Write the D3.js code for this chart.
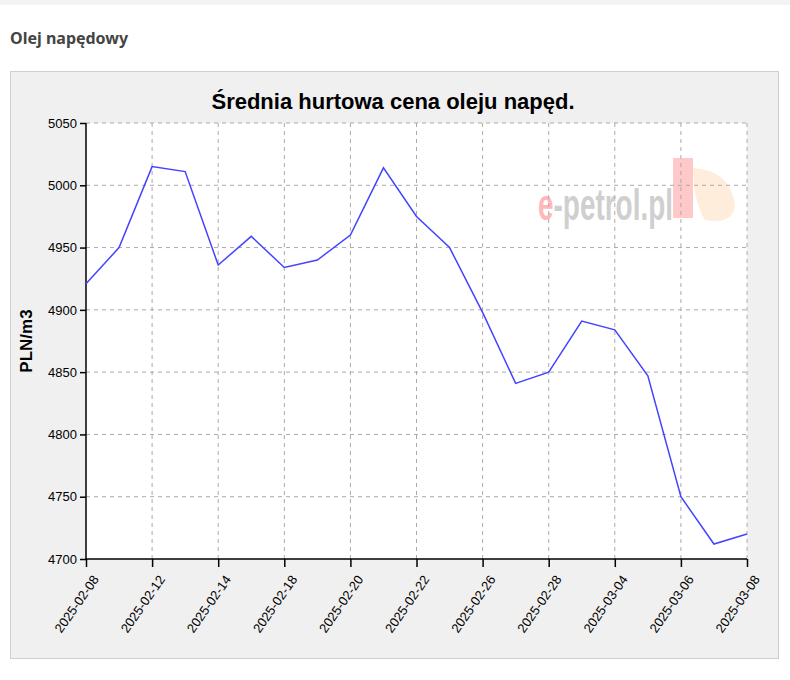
<!DOCTYPE html>
<html><head><meta charset="utf-8">
<script src="https://cdn.jsdelivr.net/npm/d3@7"></script>
<style>body{margin:0;background:#fff;font-family:"Noto Sans",sans-serif}</style>
</head><body>
<svg id="c" width="790" height="680"></svg>
<script>
const dates = ["2025-02-10","2025-02-11","2025-02-12","2025-02-13","2025-02-14","2025-02-17","2025-02-18","2025-02-19","2025-02-20","2025-02-21","2025-02-24","2025-02-25","2025-02-26","2025-02-27","2025-02-28","2025-03-03","2025-03-04","2025-03-05","2025-03-06","2025-03-07","2025-03-10"];
const prices = [4921,4950,5015,5011,4936,4959,4934,4940,4960,5014,4975,4950,4898,4841,4850,4891,4884,4847,4750,4712,4720];
const tickLabels = ["2025-02-08","2025-02-12","2025-02-14","2025-02-18","2025-02-20","2025-02-22","2025-02-26","2025-02-28","2025-03-04","2025-03-06","2025-03-08"];
const yTicks = [4700,4750,4800,4850,4900,4950,5000,5050];

const svg = d3.select("#c");
svg.append("rect").attr("x",0).attr("y",0).attr("width",790).attr("height",5).attr("fill","#f3f3f3");
svg.append("text").attr("x",10).attr("y",44).attr("font-size",16).attr("font-weight",700).attr("fill","#444").text("Olej napędowy");
svg.append("rect").attr("x",10.5).attr("y",71.5).attr("width",768).attr("height",587).attr("fill","#f0f0f0").attr("stroke","#cfcfcf");

const L=86,R=747,T=123,B=559;
svg.append("rect").attr("x",L).attr("y",T).attr("width",R-L).attr("height",B-T).attr("fill","#fff");
svg.append("text").attr("x",393).attr("y",109).attr("text-anchor","middle").attr("font-family","Liberation Sans, Arial").attr("font-weight",700).attr("font-size",22).attr("fill","#000").text("Średnia hurtowa cena oleju napęd.");

// watermark
const wm = svg.append("g").attr("opacity",0.35);
wm.append("rect").attr("x",673).attr("y",158).attr("width",20).attr("height",60).attr("fill","#f66");
wm.append("path").attr("d","M693,168 Q730,170 735,205 Q733,225 705,220 Q693,200 693,168Z").attr("fill","#fc9");
const wt = wm.append("text").attr("x",538).attr("y",220).attr("font-family","Liberation Sans Narrow, Liberation Sans").attr("font-weight",700).attr("font-size",44).attr("textLength",135).attr("lengthAdjust","spacingAndGlyphs");
wt.append("tspan").attr("fill","#f33").text("e");
wt.append("tspan").attr("fill","#777").text("-petrol.pl");

const x = d3.scaleLinear().domain([0,dates.length-1]).range([L,R]);
const y = d3.scaleLinear().domain([4700,5050]).range([B,T]);
const xt = d3.range(0,dates.length,2);

const grid = svg.append("g").attr("stroke","#aaa").attr("stroke-dasharray","4,4");
grid.selectAll(".v").data(xt.slice(1)).join("line").attr("x1",d=>x(d)).attr("x2",d=>x(d)).attr("y1",T).attr("y2",B);
grid.selectAll(".h").data(yTicks.slice(1)).join("line").attr("x1",L).attr("x2",R).attr("y1",d=>y(d)).attr("y2",d=>y(d));

const ya = svg.append("g").attr("transform",`translate(${L},0)`).call(d3.axisLeft(y).tickValues(yTicks).tickSize(6).tickFormat(d3.format("d")));
ya.selectAll("text").attr("font-family","Liberation Sans Narrow, Liberation Sans").attr("font-size",13).attr("fill","#000");
const xa = svg.append("g").attr("transform",`translate(0,${B})`).call(d3.axisBottom(x).tickValues(xt).tickSize(8).tickFormat((d,i)=>tickLabels[i]));
xa.selectAll("text").attr("font-family","Liberation Sans Narrow, Liberation Sans").attr("font-size",13).attr("fill","#000")
  .attr("text-anchor","end").attr("dx",0).attr("dy",0).attr("transform","translate(4,14) rotate(-55)");
[ya,xa].forEach(a=>a.selectAll("path,line").attr("stroke","#000").attr("stroke-width",1.5));
xa.select("path").attr("d",`M${L},0H${R}`);
ya.select("path").attr("d",`M0,${B}V${T}`);

svg.append("text").attr("transform","translate(32,341) rotate(-90)").attr("text-anchor","middle").attr("font-family","Liberation Sans").attr("font-weight",700).attr("font-size",17).text("PLN/m3");

svg.append("path").datum(prices).attr("fill","none").attr("stroke","#4444ff").attr("stroke-width",1.5)
  .attr("d",d3.line().x((d,i)=>x(i)).y(d=>y(d)));
</script>
</body></html>
